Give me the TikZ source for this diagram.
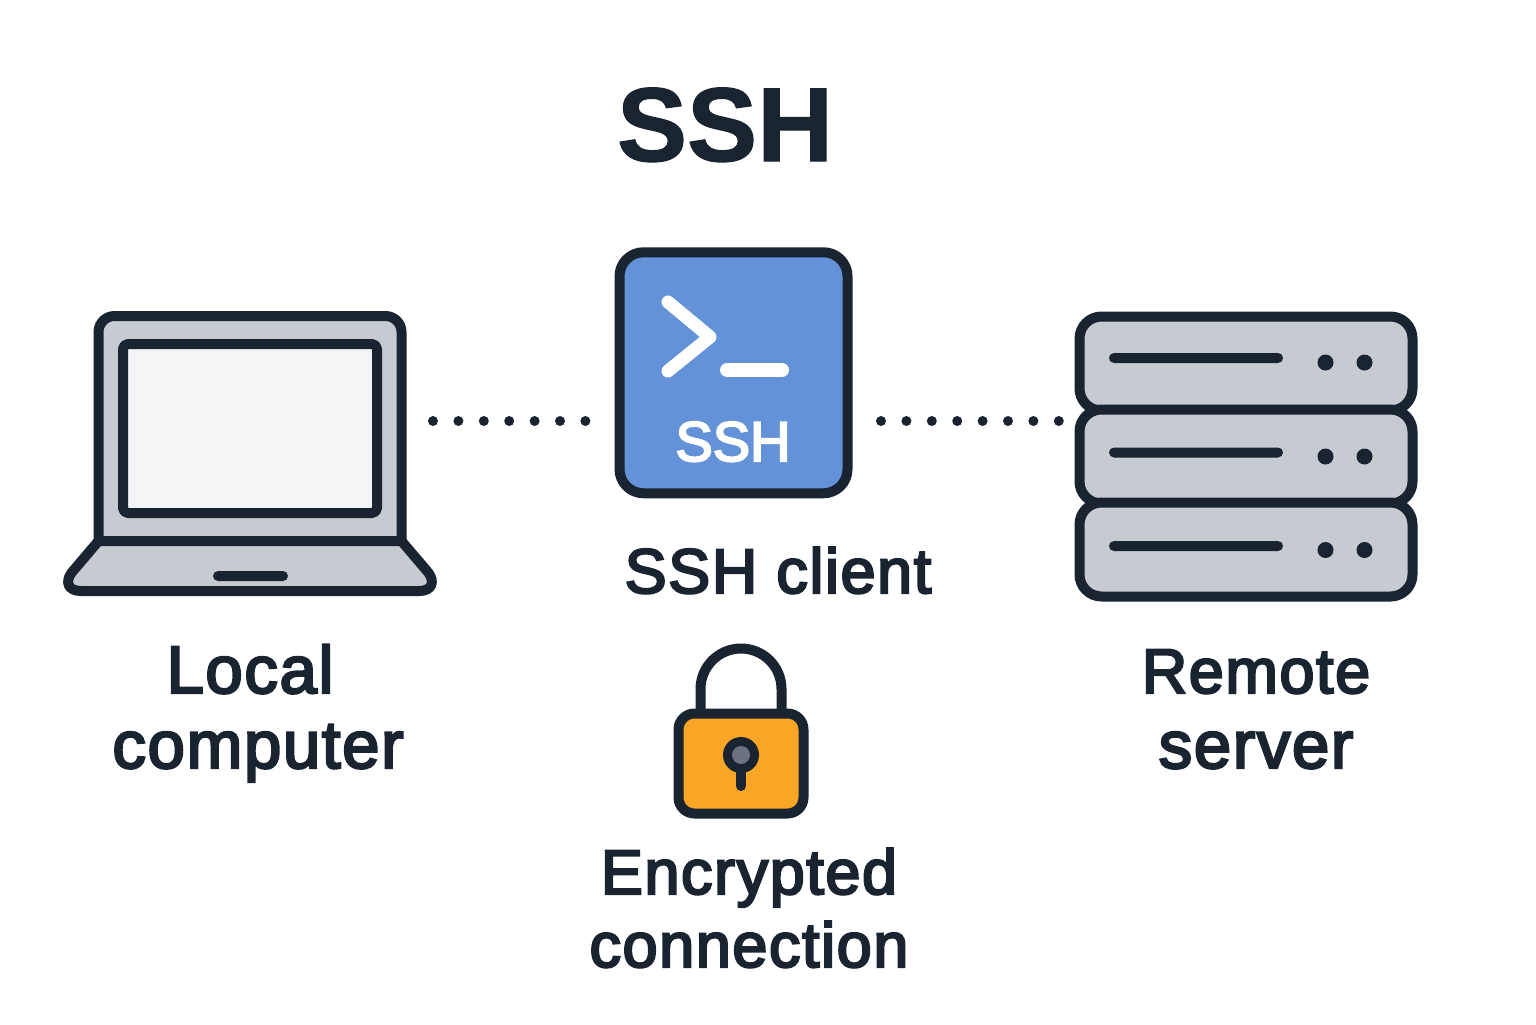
\documentclass[tikz,border=0pt]{standalone}
\usepackage{fontspec}
\setmainfont{Liberation Sans}
\newfontfamily\labelface{Liberation Sans}[FakeBold=3.6, LetterSpace=2.5]
\newfontfamily\boxface{Liberation Sans}[FakeBold=3.6]
\newfontfamily\titleface{Liberation Sans Bold}[FakeBold=1.2]
\usetikzlibrary{positioning}
\definecolor{inkdark}{HTML}{1A2330}
\definecolor{shellgray}{HTML}{C6CBD1}
\definecolor{screenwhite}{HTML}{F3F4F6}
\definecolor{clientblue}{HTML}{6492D8}
\definecolor{lockorange}{HTML}{F9A526}
\definecolor{keygray}{HTML}{6B7280}
\tikzset{
    %Define style for text under the icons
    lbl/.style={
           text=inkdark,
           inner sep=0pt,
           anchor=base,
           font=\fontsize{33.5}{36}\selectfont\labelface},
    % Same text, a little smaller
    smalllbl/.style={
           lbl,
           font=\fontsize{31.5}{36}\selectfont\labelface},
    % Define outline of the icons
    outline/.style={
           draw=inkdark,
           line width=5pt,
           line join=round},
    % Define dotted connector style
    dotlink/.style={
           draw=inkdark,
           line width=5pt,
           line cap=round,
           dash pattern=on 0pt off 12.7pt}
}
\begin{document}
\begin{tikzpicture}[x=0.5pt, y=-0.5pt, node distance=0.0cm]
	\tikzstyle{unitbox} = [rectangle, outline, fill=shellgray, minimum width=166.5pt, minimum height=47pt, inner sep=0pt, outer sep=0pt, rounded corners=11pt]
	\tikzstyle{unitbar} = [rectangle, fill=inkdark, minimum width=87pt, minimum height=5pt, inner sep=0pt, rounded corners=2.5pt]
	\tikzstyle{unitled} = [circle, fill=inkdark, minimum size=8pt, inner sep=0pt]

	\useasboundingbox (0,0) rectangle (1536,1024);

	\node[lbl, font=\fontsize{52.5}{52}\selectfont\titleface](title) at (725,161){SSH};

	% Laptop
	\node[rectangle, outline, fill=shellgray, minimum width=151.5pt, minimum height=122pt, inner sep=0pt, outer sep=0pt, rounded corners=8pt](laptoplid) at (250,438){};
	\node[rectangle, outline, fill=screenwhite, minimum width=127pt, minimum height=84.5pt, inner sep=0pt, outer sep=0pt, rounded corners=2.5pt](laptopscreen) at (250,428.5){};
	\draw[outline, fill=shellgray] (98.5,541) -- (401.5,541) -- (428.7,573) .. controls (435,582) and (432,591) .. (419,591) -- (81,591) .. controls (68,591) and (65,582) .. (71.3,573) -- cycle;
	\node[rectangle, fill=inkdark, minimum width=37.5pt, minimum height=5pt, inner sep=0pt, rounded corners=2.5pt](laptoppad) at (250.5,576){};
	\node[lbl](localline) at (250,693){Local};
	\node[lbl, below=37.5pt of localline.base, anchor=base, xshift=4pt](computerline){computer};

	% Client box
	\node[rectangle, outline, fill=clientblue, minimum width=114pt, minimum height=120.5pt, inner sep=0pt, outer sep=0pt, rounded corners=12pt](sshbox) at (733.5,372.75){};
	\draw[white, line width=6.5pt, line cap=round, line join=round] (668,302) -- (710,337) -- (668,371);
	\draw[white, line width=7pt, line cap=round] (727,370) -- (782,370);
	\node[lbl, text=white, font=\fontsize{28}{28}\selectfont\boxface](sshboxtext) at (733,461){SSH};
	\node[smalllbl](clientline) at (778,593){SSH client};

	% Server
	\node[unitbox](unitone) at (1246,363.5){};
	\node[unitbox, below=46.5pt of unitone.center, anchor=center](unittwo){};
	\node[unitbox, below=46.5pt of unittwo.center, anchor=center](unitthree){};
	\node[unitbar](barone) at (1196,358){};
	\node[unitbar](bartwo) at (1196,452.5){};
	\node[unitbar](barthree) at (1196,546){};
	\node[unitled](ledonea) at (1325.5,362.5){};
	\node[unitled, right=19.5pt of ledonea.center, anchor=center](ledoneb){};
	\node[unitled](ledtwoa) at (1325.5,456.5){};
	\node[unitled, right=19.5pt of ledtwoa.center, anchor=center](ledtwob){};
	\node[unitled](ledthreea) at (1325.5,550){};
	\node[unitled, right=19.5pt of ledthreea.center, anchor=center](ledthreeb){};
	\node[smalllbl](remoteline) at (1256,693){Remote};
	\node[lbl, below=37.5pt of remoteline.base, anchor=base](serverline){server};

	% Dotted links
	\coordinate (dotrow) at (0,421);
	\draw[dotlink, shorten <=15.75pt, shorten >=17pt] (laptoplid.east |- dotrow) -- (sshbox.west |- dotrow);
	\draw[dotlink, shorten <=16.75pt, shorten >=10pt] (sshbox.east |- dotrow) -- (unittwo.west |- dotrow);

	% Lock
	\draw[outline] (700.5,716) -- (700.5,689) arc[start angle=180, end angle=0, radius=20.25pt] -- (781.5,716);
	\node[rectangle, outline, fill=lockorange, minimum width=62.5pt, minimum height=50pt, inner sep=0pt, outer sep=0pt, rounded corners=8pt](lockbody) at (741,763.5){};
	\draw[inkdark, line width=5pt, line cap=round] (741,765) -- (741,786);
	\node[circle, fill=inkdark, minimum size=18pt, inner sep=0pt](keyhole) at (741,755){};
	\node[circle, fill=keygray, minimum size=9pt, inner sep=0pt](keycenter) at (741,755){};
	\node[smalllbl](encryptedline) at (749,894){Encrypted};
	\node[smalllbl, below=36.5pt of encryptedline.base, anchor=base](connectionline){connection};
\end{tikzpicture}
\end{document}
